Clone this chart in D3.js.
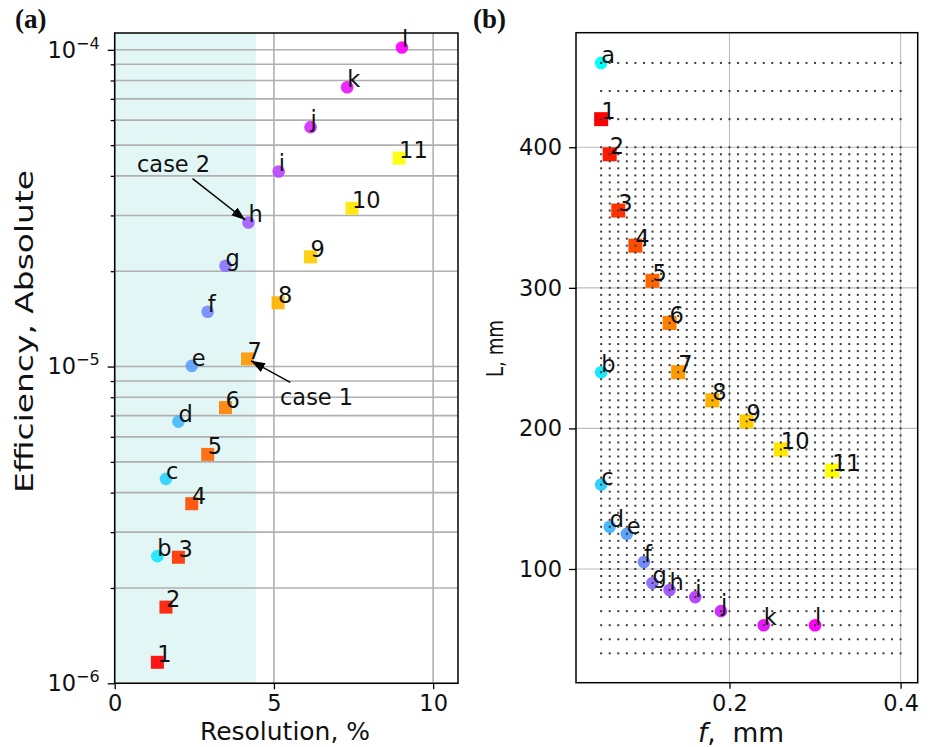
<!DOCTYPE html>
<html><head><meta charset="utf-8">
<script src="https://cdn.jsdelivr.net/npm/d3@7"></script>
<style>
body{margin:0;background:#fff}
svg text{font-family:"DejaVu Sans",sans-serif;fill:#111}
</style>
</head><body>
<svg id="c" width="930" height="747"></svg>
<script>
// ---------- Panel (a) data ----------
const letterLabelsA = ["b","c","d","e","f","g","h","i","j","k","l"];
const letterIndexA  = [1,2,3,4,5,6,7,8,9,10,11];
const letterResA    = [1.34,1.61,2.00,2.42,2.92,3.48,4.20,5.15,6.15,7.30,9.02];
const letterEffA    = [2.52e-6,4.42e-6,6.70e-6,1.005e-5,1.49e-5,2.08e-5,2.85e-5,4.13e-5,5.70e-5,7.62e-5,1.017e-4];
const numberLabels  = ["1","2","3","4","5","6","7","8","9","10","11"];
const numberResA    = [1.34,1.61,2.00,2.42,2.92,3.48,4.17,5.13,6.15,7.45,8.93];
const numberEffA    = [1.165e-6,1.74e-6,2.50e-6,3.69e-6,5.28e-6,7.42e-6,1.057e-5,1.59e-5,2.22e-5,3.16e-5,4.55e-5];
const xTicksA = [0,5,10];
const yMajorA = [1e-6,1e-5,1e-4];
const yMinorA = [2e-6,3e-6,4e-6,5e-6,6e-6,7e-6,8e-6,9e-6,2e-5,3e-5,4e-5,5e-5,6e-5,7e-5,8e-5,9e-5];
const spanA = [0,4.43];
const annotText   = ["case 1","case 2"];
const annotTgtRes = [4.17,4.20];
const annotTgtEff = [1.057e-5,2.85e-5];
const annotTxtRes = [5.19,0.70];
const annotTxtEff = [7.57e-6,4.12e-5];

// ---------- Panel (b) data ----------
const letterLabelsB = ["a","b","c","d","e","f","g","h","i","j","k","l"];
const letterFB = [0.05,0.05,0.05,0.06,0.08,0.10,0.11,0.13,0.16,0.19,0.24,0.30];
const letterLB = [460,240,160,130,125,105,90,85,80,70,60,60];
const numberFB = [0.05,0.06,0.07,0.09,0.11,0.13,0.14,0.18,0.22,0.26,0.32];
const numberLB = [420,395,355,330,305,275,240,220,205,185,170];
const gridF = [0.05,0.06,0.07,0.08,0.09,0.10,0.11,0.12,0.13,0.14,0.15,0.16,0.17,0.18,0.19,0.20,0.21,0.22,0.23,0.24,0.25,0.26,0.27,0.28,0.29,0.30,0.31,0.32,0.33,0.34,0.35,0.36,0.37,0.38,0.39,0.40];
const gridL = [40,50,60,70,80,85,90,95,100,105,110,115,120,125,130,135,140,145,150,155,160,165,170,175,180,185,190,195,200,205,210,215,220,225,230,235,240,245,250,255,260,265,270,275,280,285,290,295,300,305,310,315,320,325,330,335,340,345,350,355,360,365,370,375,380,385,390,395,400,420,440,460];
const xTicksB = [0.2,0.4];
const yTicksB = [100,200,300,400];

// ---------- colours ----------
const coolC = t => `rgb(${Math.round(255*t)},${Math.round(255*(1-t))},255)`;
const autumnC = t => `rgb(255,${Math.round(255*t)},0)`;

const svg = d3.select("#c");
const defs = svg.append("defs");
defs.append("marker").attr("id","ah").attr("markerUnits","userSpaceOnUse")
  .attr("markerWidth",14).attr("markerHeight",10).attr("refX",14).attr("refY",5)
  .attr("orient","auto").append("path").attr("d","M0,0 L14,5 L0,10 z").attr("fill","#000");

const FS = 22.5;

// ================= Panel (a) =================
const A = {l:114.7, r:458, t:33, b:683.3};
const xA = d3.scaleLinear().domain([0,10.78]).range([A.l,A.r]);
const yA = d3.scaleLog().domain([1e-6,1.13e-4]).range([A.b,A.t]);
const gA = svg.append("g");

gA.append("rect").attr("x",xA(spanA[0])).attr("y",A.t).attr("width",xA(spanA[1])-xA(spanA[0]))
  .attr("height",A.b-A.t).attr("fill","rgb(225,246,245)");

// grid
gA.selectAll(".gy").data(yMajorA.concat(yMinorA)).join("line")
  .attr("x1",A.l).attr("x2",A.r).attr("y1",d=>yA(d)).attr("y2",d=>yA(d))
  .attr("stroke","#b0b0b0").attr("stroke-width",1.6);
gA.selectAll(".gx").data(xTicksA).join("line")
  .attr("x1",d=>xA(d)).attr("x2",d=>xA(d)).attr("y1",A.t).attr("y2",A.b)
  .attr("stroke","#b0b0b0").attr("stroke-width",1.6);

// markers
const S = 13, R = 6.3;
gA.selectAll(".sqA").data(numberLabels).join("rect")
  .attr("x",(d,i)=>xA(numberResA[i])-S/2).attr("y",(d,i)=>yA(numberEffA[i])-S/2)
  .attr("width",S).attr("height",S).attr("fill",(d,i)=>autumnC(i/10)).attr("opacity",0.92);
gA.selectAll(".ciA").data(letterLabelsA).join("circle")
  .attr("cx",(d,i)=>xA(letterResA[i])).attr("cy",(d,i)=>yA(letterEffA[i])).attr("r",R)
  .attr("fill",(d,i)=>coolC(letterIndexA[i]/11)).attr("opacity",0.92);

// point labels
gA.selectAll(".nlA").data(numberLabels).join("text")
  .attr("x",(d,i)=>xA(numberResA[i])).attr("y",(d,i)=>yA(numberEffA[i]))
  .attr("font-size",FS).text(d=>d);
gA.selectAll(".llA").data(letterLabelsA).join("text")
  .attr("x",(d,i)=>xA(letterResA[i])).attr("y",(d,i)=>yA(letterEffA[i]))
  .attr("font-size",FS).text(d=>d);

// annotations
annotText.forEach((txt,i)=>{
  const t = gA.append("text").attr("x",xA(annotTxtRes[i])).attr("y",yA(annotTxtEff[i]))
    .attr("font-size",FS).text(txt);
  const bb = t.node().getBBox();
  const cx = bb.x+bb.width/2, cy = bb.y+bb.height/2;
  const tx = xA(annotTgtRes[i]), ty = yA(annotTgtEff[i]);
  const dx = tx-cx, dy = ty-cy;
  const sx = dx!==0 ? (bb.width/2)/Math.abs(dx) : Infinity;
  const sy = dy!==0 ? (bb.height/2)/Math.abs(dy) : Infinity;
  const s = Math.min(sx,sy);
  const len = Math.hypot(dx,dy);
  const x0 = cx+dx*s + dx/len*3, y0 = cy+dy*s + dy/len*3;
  const x1 = tx - dx/len*4, y1 = ty - dy/len*4;
  gA.append("line").attr("x1",x0).attr("y1",y0).attr("x2",x1).attr("y2",y1)
    .attr("stroke","#000").attr("stroke-width",1.5).attr("marker-end","url(#ah)");
});

// spine
gA.append("rect").attr("x",A.l).attr("y",A.t).attr("width",A.r-A.l).attr("height",A.b-A.t)
  .attr("fill","none").attr("stroke","#000").attr("stroke-width",1.5);

// axes
const axXA = gA.append("g").attr("transform",`translate(0,${A.b})`)
  .call(d3.axisBottom(xA).tickValues(xTicksA).tickSize(6).tickPadding(6).tickFormat(d3.format("d")));
const axYA = gA.append("g").attr("transform",`translate(${A.l},0)`)
  .call(d3.axisLeft(yA).tickValues(yMajorA).tickSize(7).tickPadding(8).tickFormat(()=>""));
const axYAm = gA.append("g").attr("transform",`translate(${A.l},0)`)
  .call(d3.axisLeft(yA).tickValues(yMinorA).tickSize(4).tickFormat(()=>""));
[axXA,axYA,axYAm].forEach(g=>{
  g.select(".domain").remove();
  g.selectAll(".tick line").attr("stroke","#000").attr("stroke-width",1.3);
  g.selectAll("text").attr("font-size",FS).attr("font-family","DejaVu Sans").attr("fill","#111");
});
axYA.selectAll(".tick text").each(function(d){
  const t = d3.select(this);
  t.text(null);
  t.append("tspan").text("10");
  t.append("tspan").attr("dy",-9).attr("font-size",16).text("\u2212"+Math.round(-Math.log10(d)));
});

svg.append("text").attr("x",(200+370)/2).attr("y",740).attr("text-anchor","middle")
  .attr("font-size",24).attr("textLength",170).attr("lengthAdjust","spacingAndGlyphs").text("Resolution, %");
svg.append("text").attr("transform","translate(33,331.5) rotate(-90)").attr("text-anchor","middle")
  .attr("font-size",24.5).attr("textLength",323).attr("lengthAdjust","spacingAndGlyphs").text("Efficiency, Absolute");

// ================= Panel (b) =================
const B = {l:576, r:917.7, t:32.7, b:682.7};
const xB = d3.scaleLinear().domain([0.0206,0.42]).range([B.l,B.r]);
const yB = d3.scaleLinear().domain([19.1,481.5]).range([B.b,B.t]);
const gB = svg.append("g");

gB.selectAll(".gyb").data(yTicksB).join("line")
  .attr("x1",B.l).attr("x2",B.r).attr("y1",d=>yB(d)).attr("y2",d=>yB(d))
  .attr("stroke","#bdbdbd").attr("stroke-width",1.1);
gB.selectAll(".gxb").data(xTicksB).join("line")
  .attr("x1",d=>xB(d)).attr("x2",d=>xB(d)).attr("y1",B.t).attr("y2",B.b)
  .attr("stroke","#bdbdbd").attr("stroke-width",1.1);

gB.selectAll(".sqB").data(numberLabels).join("rect")
  .attr("x",(d,i)=>xB(numberFB[i])-S/2-0.5).attr("y",(d,i)=>yB(numberLB[i])-S/2-0.5)
  .attr("width",S+1).attr("height",S+1).attr("fill",(d,i)=>autumnC(i/10));
gB.selectAll(".ciB").data(letterLabelsB).join("circle")
  .attr("cx",(d,i)=>xB(letterFB[i])).attr("cy",(d,i)=>yB(letterLB[i])).attr("r",R)
  .attr("fill",(d,i)=>coolC(i/11));

// scan grid dots
const dots = [];
gridL.forEach(L=>gridF.forEach(f=>dots.push([f,L])));
gB.selectAll(".dot").data(dots).join("rect")
  .attr("x",d=>xB(d[0])-1).attr("y",d=>yB(d[1])-1).attr("width",2).attr("height",2)
  .attr("fill","#3c3c3c");

gB.selectAll(".nlB").data(numberLabels).join("text")
  .attr("x",(d,i)=>xB(numberFB[i])).attr("y",(d,i)=>yB(numberLB[i]))
  .attr("font-size",FS).text(d=>d);
gB.selectAll(".llB").data(letterLabelsB).join("text")
  .attr("x",(d,i)=>xB(letterFB[i])).attr("y",(d,i)=>yB(letterLB[i]))
  .attr("font-size",FS).text(d=>d);

gB.append("rect").attr("x",B.l).attr("y",B.t).attr("width",B.r-B.l).attr("height",B.b-B.t)
  .attr("fill","none").attr("stroke","#000").attr("stroke-width",1.5);

const axXB = gB.append("g").attr("transform",`translate(0,${B.b})`)
  .call(d3.axisBottom(xB).tickValues(xTicksB).tickSize(6).tickPadding(6).tickFormat(d3.format(".1f")));
const axYB = gB.append("g").attr("transform",`translate(${B.l},0)`)
  .call(d3.axisLeft(yB).tickValues(yTicksB).tickSize(7).tickPadding(7).tickFormat(d3.format("d")));
[axXB,axYB].forEach(g=>{
  g.select(".domain").remove();
  g.selectAll(".tick line").attr("stroke","#000").attr("stroke-width",1.3);
  g.selectAll("text").attr("font-size",FS).attr("font-family","DejaVu Sans").attr("fill","#111");
});

const xl = svg.append("text").attr("x",741).attr("y",742).attr("text-anchor","middle").attr("font-size",26.5);
xl.append("tspan").attr("font-style","italic").text("f");
xl.append("tspan").text(",\u00a0\u00a0mm");
svg.append("text").attr("transform","translate(503,348.5) rotate(-90)").attr("text-anchor","middle")
  .attr("font-size",23).attr("textLength",57).attr("lengthAdjust","spacingAndGlyphs").text("L, mm");

// titles
svg.append("text").attr("x",15).attr("y",28).attr("font-family","Liberation Serif").style("font-family","Liberation Serif")
  .attr("font-weight","bold").attr("font-size",27).text("(a)");
svg.append("text").attr("x",473).attr("y",28).style("font-family","Liberation Serif")
  .attr("font-weight","bold").attr("font-size",27).text("(b)");
</script>
</body></html>
